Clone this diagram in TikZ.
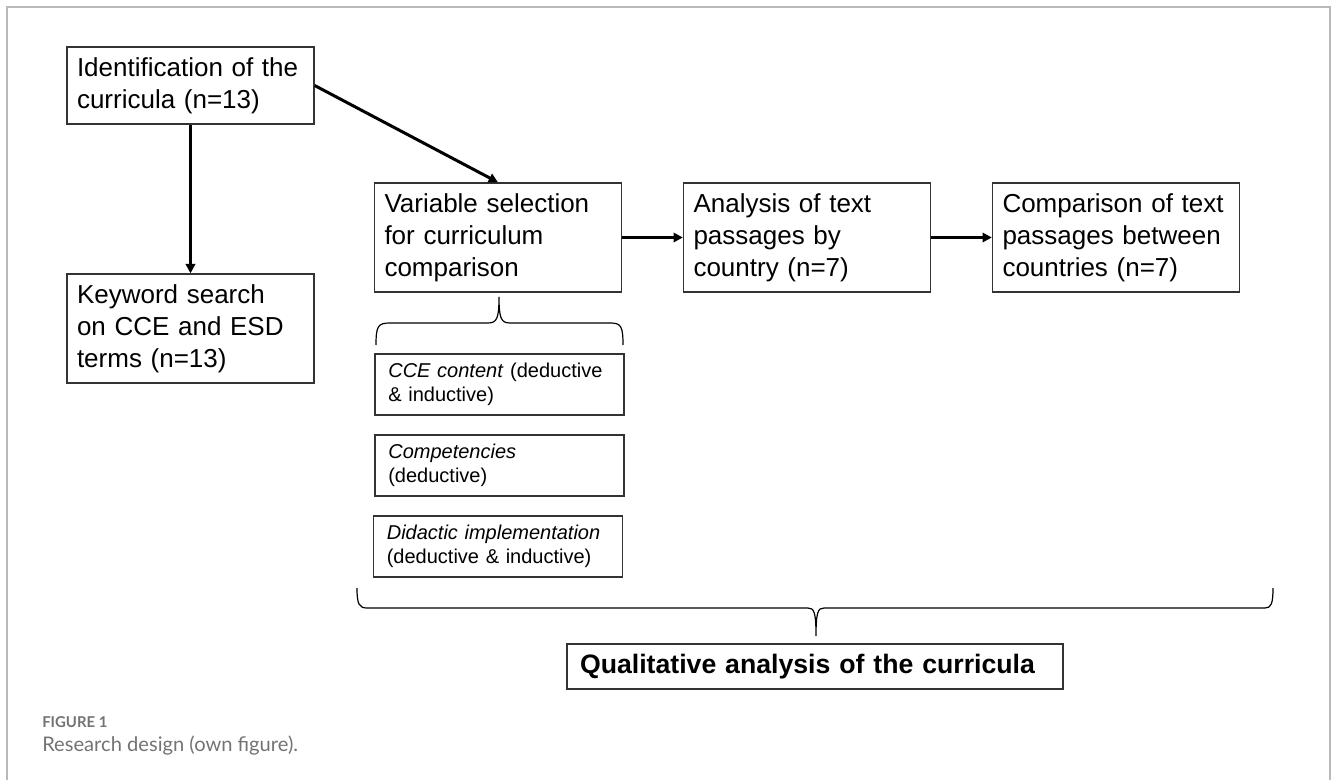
\documentclass[tikz,border=0pt]{standalone}
\usepackage{fontspec}
\setmainfont{Liberation Sans}
\newfontfamily\capfont{Lato}
\usepackage{xcolor}
\definecolor{frgray}{RGB}{185,185,185}
\definecolor{capgray}{RGB}{115,115,115}
\usetikzlibrary{arrows.meta,positioning}

\begin{document}
\begin{tikzpicture}[x=0.75pt, y=-0.75pt,
    bigbox/.style={rectangle, draw=black!80, line width=1pt, minimum height=81.75pt,
      inner xsep=7.5pt, text width=170.25pt, align=left, font=\fontsize{19.5pt}{24pt}\selectfont},
    subbox/.style={rectangle, draw=black!80, line width=1pt, minimum height=45.75pt,
      inner xsep=10pt, text width=166.75pt, align=left, font=\fontsize{15pt}{18pt}\selectfont},
    arr/.style={-{Triangle[length=7pt, width=7pt]}, line width=2.25pt},
    brc/.style={line width=0.9pt}
  ]
    \useasboundingbox (0,0) rectangle (1331,780);
    \draw[frgray, line width=1.2pt] (7,780) -- (7,7) -- (1330,7) -- (1330,780);

    \node[bigbox, minimum height=57.75pt] (ident)   at (190.5,85.5)  {Identification of the\\curricula (n=13)};
    \node[bigbox] (keyword) at (190.5,328.5) {Keyword search\\on CCE and ESD\\terms (n=13)};
    \node[bigbox] (varsel)  at (498,237.5)   {Variable selection\\for curriculum\\comparison};
    \node[bigbox] (bycntry) at (807,237.5)   {Analysis of text\\passages by\\country (n=7)};
    \node[bigbox] (betwcn)  at (1116,237.5)  {Comparison of text\\passages between\\countries (n=7)};

    \node[subbox] (cce)  at (499.5,384.5) {\textit{CCE content} (deductive\\\& inductive)};
    \node[subbox] (comp) at (499.5,465.5) {\textit{Competencies}\\(deductive)};
    \node[subbox] (did)  at (498,546.5)   {\textit{Didactic implementation}\\(deductive \& inductive)};

    \node[rectangle, draw=black!80, line width=1pt, minimum width=372pt, minimum height=33.75pt,
      inner xsep=9.75pt, text width=352.5pt, align=left, font=\bfseries\fontsize{20pt}{24pt}\selectfont]
      (qual) at (815,666.5) {Qualitative analysis of the curricula};

    \draw[arr] (ident.south) -- (keyword.north);
    \draw[arr] (ident.east) -- (varsel.north);
    \draw[arr] (varsel.east) -- (bycntry.west);
    \draw[arr] (bycntry.east) -- (betwcn.west);

    % braces
    \draw[brc] (376,345) .. controls (376,326) and (378,323) .. (390,323) -- (488,323)
      .. controls (497,323) and (499,318) .. (499,297)
      .. controls (499,318) and (501,323) .. (510,323) -- (610,323)
      .. controls (621,323) and (623,326) .. (623,345);
    \draw[brc] (357,588) .. controls (357,604) and (359,608) .. (367,608) -- (808,608)
      .. controls (814,608) and (816,612) .. (816,636)
      .. controls (816,612) and (818,608) .. (824,608) -- (1265,608)
      .. controls (1271,608) and (1273,604) .. (1273,588);

    \node[anchor=base west, text=capgray, inner sep=0pt, font=\capfont\bfseries\fontsize{11.2pt}{13pt}\selectfont]
      (fignum) at (42,727) {FIGURE 1};
    \node[anchor=base west, text=capgray, inner sep=0pt, font=\capfont\fontsize{15.1pt}{18pt}\selectfont]
      (figcap) at (42,751) {Research design (own figure).};
\end{tikzpicture}
\end{document}
